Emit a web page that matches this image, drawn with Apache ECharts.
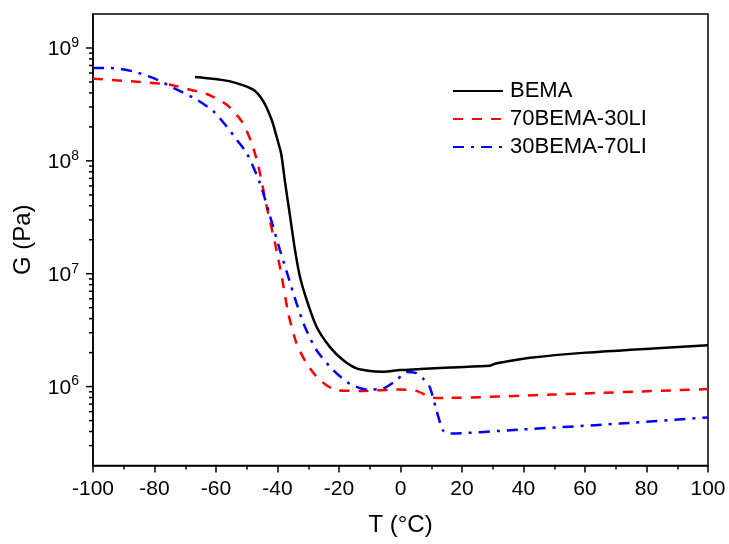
<!DOCTYPE html>
<html>
<head>
<meta charset="utf-8">
<script src="https://cdn.jsdelivr.net/npm/echarts@6/dist/echarts.min.js"></script>
<style>
html,body{margin:0;padding:0;background:#fff;}
#chart{width:729px;height:544px;}
</style>
</head>
<body>
<div id="chart"></div>
<script>
// ---- data (T in °C, G in Pa) ----
const seriesNames = ['BEMA', '70BEMA-30LI', '30BEMA-70LI'];

const bemaT = [-66.8, -55.4, -47.9, -44.6, -41.9, -40.3, -38.8, -37.5, -35.9, -34.3, -32.7, -30.5, -27.3, -23.0, -18.6, -14.3, -8.9, -5.7, -0.2, 6.3, 16, 29, 31, 33, 42.1, 60.4, 82, 100];
const bemaG = [5.53e8, 5.06e8, 4.27e8, 3.36e8, 2.31e8, 1.64e8, 1.15e8, 6.34e7, 3.21e7, 1.62e7, 9.4e6, 5.85e6, 3.39e6, 2.25e6, 1.71e6, 1.45e6, 1.365e6, 1.355e6, 1.40e6, 1.43e6, 1.48e6, 1.53e6, 1.60e6, 1.64e6, 1.80e6, 2.0e6, 2.18e6, 2.33e6];

const li30T = [-100, -84.6, -74.9, -68.4, -63, -56.5, -51.6, -48.4, -46.2, -43.5, -40.8, -38.6, -36.5, -33.8, -30.5, -26.2, -20.8, -13.2, -0.2, 5.2, 9.5, 11.5, 14.4, 49.5, 100];
const li30G = [5.35e8, 4.99e8, 4.72e8, 4.27e8, 3.91e8, 3.14e8, 2.23e8, 1.44e8, 8.91e7, 3.93e7, 1.86e7, 9.4e6, 4.46e6, 2.41e6, 1.60e6, 1.14e6, 9.29e5, 9.16e5, 9.42e5, 9.16e5, 8.11e5, 7.94e5, 7.94e5, 8.51e5, 9.51e5];

const li70T = [-100, -94.4, -86.8, -79.2, -72.7, -66.2, -60.8, -56.5, -53.2, -50, -45.7, -42.4, -39.2, -36.5, -33.8, -31.1, -27.3, -21.9, -16.5, -11.0, -5.7, -1.3, 2, 5, 7.3, 9.5, 11.7, 13.8, 15.5, 38.7, 71.2, 100];
const li70G = [6.65e8, 6.65e8, 6.19e8, 5.24e8, 4.27e8, 3.48e8, 2.74e8, 2.01e8, 1.53e8, 1.17e8, 6.34e7, 3.21e7, 1.62e7, 9.4e6, 5.46e6, 3.39e6, 2.10e6, 1.40e6, 1.06e6, 9.42e5, 9.62e5, 1.14e6, 1.35e6, 1.32e6, 1.18e6, 9.93e5, 6.17e5, 4.10e5, 3.84e5, 4.16e5, 4.70e5, 5.33e5];

// ---- axis ticks ----
const xTicksMin = -100, xTicksMax = 100, xTickStep = 20;
const yMajorTicks = [1e6, 1e7, 1e8, 1e9];
const yMinorTicks = [3e5, 4e5, 5e5, 6e5, 7e5, 8e5, 9e5,
  2e6, 3e6, 4e6, 5e6, 6e6, 7e6, 8e6, 9e6,
  2e7, 3e7, 4e7, 5e7, 6e7, 7e7, 8e7, 9e7,
  2e8, 3e8, 4e8, 5e8, 6e8, 7e8, 8e8, 9e8];

const zip = (a, b) => a.map((v, i) => [v, b[i]]);
const FONT = '"Liberation Sans", Arial, sans-serif';

const chart = echarts.init(document.getElementById('chart'), null, {renderer: 'canvas'});

const tickData = yMinorTicks.map(v => [xTicksMin, v, 4]).concat(yMajorTicks.map(v => [xTicksMin, v, 7]));

const option = {
  backgroundColor: '#fff',
  animation: false,
  grid: {left: 93, right: 21, top: 14, bottom: 78.5, show: true, borderColor: '#000', borderWidth: 1.5, containLabel: false},
  legend: {
    data: seriesNames,
    orient: 'vertical',
    left: 452, top: 80,
    itemWidth: 50, itemHeight: 14, itemGap: 6,
    padding: 0,
    itemStyle: {opacity: 0},
    textStyle: {fontSize: 22, fontFamily: FONT, color: '#000', lineHeight: 22, padding: [0, 0, 0, 2]}
  },
  xAxis: {
    type: 'value', min: xTicksMin, max: xTicksMax, interval: xTickStep,
    axisLine: {onZero: false, lineStyle: {color: '#000', width: 1.5}},
    axisTick: {length: 7, lineStyle: {color: '#000', width: 1.5}},
    minorTick: {show: true, splitNumber: 2, length: 4, lineStyle: {color: '#000', width: 1.5}},
    splitLine: {show: false},
    axisLabel: {fontSize: 21, fontFamily: FONT, color: '#000', margin: 13},
    name: 'T (°C)', nameLocation: 'middle', nameGap: 48,
    nameTextStyle: {fontSize: 24, fontFamily: FONT, color: '#000'}
  },
  yAxis: {
    type: 'log', logBase: 10, min: 2e5, max: 2e9,
    axisLine: {onZero: false, lineStyle: {color: '#000', width: 1.5}},
    axisTick: {show: false},
    splitLine: {show: false},
    axisLabel: {
      margin: 14, color: '#000',
      formatter: function (v) {
        const e = Math.log10(v);
        const r = Math.round(e);
        if (Math.abs(e - r) > 1e-6) return '';
        return '{b|10}{s|' + r + '}';
      },
      rich: {
        b: {fontSize: 21, fontFamily: FONT, color: '#000', lineHeight: 24, verticalAlign: 'bottom'},
        s: {fontSize: 14, fontFamily: FONT, color: '#000', lineHeight: 14, verticalAlign: 'top'}
      }
    },
    name: 'G (Pa)', nameLocation: 'middle', nameGap: 58,
    nameTextStyle: {fontSize: 24, fontFamily: FONT, color: '#000'}
  },
  series: [
    {
      name: seriesNames[0], type: 'line', data: zip(bemaT, bemaG),
      symbol: 'none', smooth: 0.25,
      lineStyle: {color: '#000', width: 2.5, type: 'solid'}, itemStyle: {color: '#000'}, z: 3
    },
    {
      name: seriesNames[1], type: 'line', data: zip(li30T, li30G),
      symbol: 'none', smooth: 0.25,
      lineStyle: {color: '#ff0000', width: 2.5, type: [10, 9]}, itemStyle: {color: '#ff0000'}, z: 2
    },
    {
      name: seriesNames[2], type: 'line', data: zip(li70T, li70G),
      symbol: 'none', smooth: 0.25,
      lineStyle: {color: '#0000ff', width: 2.5, type: [11, 7, 3, 7]}, itemStyle: {color: '#0000ff'}, z: 2
    },
    {
      type: 'custom', silent: true, clip: false,
      data: tickData,
      encode: {x: 0, y: 1},
      renderItem: function (params, api) {
        const p = api.coord([api.value(0), api.value(1)]);
        const len = api.value(2);
        return {type: 'line', shape: {x1: p[0] - len, y1: p[1], x2: p[0], y2: p[1]},
          style: {stroke: '#000', lineWidth: 1.5}};
      },
      z: 5
    }
  ]
};
chart.setOption(option);
</script>
</body>
</html>
